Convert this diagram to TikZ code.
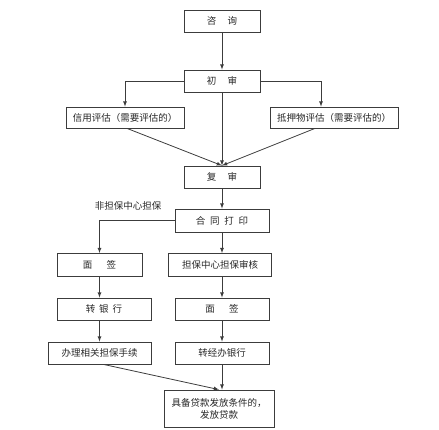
\documentclass[tikz,border=0pt]{standalone}
\usepackage{fontspec}
\usepackage{tikz}
\usetikzlibrary{arrows,shapes,positioning}
\newfontfamily\cjk{Noto Sans CJK SC}
\definecolor{lcgray}{RGB}{60,60,60}
\definecolor{lctext}{RGB}{40,40,40}
\tikzstyle{arrow} = [line width=0.8pt,->,>=latex,color=lcgray]
\tikzstyle{stepnode} = [rectangle, minimum width=76pt, minimum height=22pt, text centered, draw=lcgray, fill=white, line width=0.8pt, inner sep=1pt, text=lctext]

\begin{document}
\begin{tikzpicture}[x=1pt, y=-1pt, font=\cjk\fontsize{9.5}{12}\selectfont]
\useasboundingbox (0,0) rectangle (439,429);

\node[stepnode] (zx) at (222,21) {咨\hspace{1.2em}询};
\node[stepnode] (cs) at (222,81) {初\hspace{1.2em}审};
\node[stepnode, minimum width=118pt, minimum height=21pt] (xy) at (125,117.5) {信用评估（需要评估的）};
\node[stepnode, minimum width=128pt, minimum height=21pt] (dy) at (334,117.5) {抵押物评估（需要评估的）};
\node[stepnode] (fs) at (222,177) {复\hspace{1.2em}审};
\node[stepnode, minimum width=94pt, minimum height=23pt] (ht) at (222,220.5) {合\hspace{0.5em}同\hspace{0.5em}打\hspace{0.5em}印};

\node[stepnode, minimum width=85pt, minimum height=23pt] (mql) at (99.5,265) {面\hspace{1.5em}签};
\node[stepnode, minimum width=94pt] (zyh) at (104,309) {转\hspace{0.4em}银\hspace{0.4em}行};
\node[stepnode, minimum width=103pt] (bl) at (99.5,353) {办理相关担保手续};

\node[stepnode, minimum width=103pt, minimum height=23pt] (db) at (220,265) {担保中心担保审核};
\node[stepnode, minimum width=94pt] (mqr) at (222,309) {面\hspace{1.5em}签};
\node[stepnode, minimum width=94pt] (zjb) at (222,353) {转经办银行};
\node[stepnode, minimum width=110pt, minimum height=37pt, align=center] (ff) at (219,408.5) {具备贷款发放条件的，\\发放贷款};

\node[text=lctext] (fdb) at (128,206) {非担保中心担保};

\draw[arrow] (zx) -- (cs);
\draw[arrow] (cs.west) -| (xy.north);
\draw[arrow] (cs.east) -| ([xshift=-13pt]dy.north);
\draw[arrow] (cs) -- (fs);
\draw[arrow] ([xshift=2pt]xy.south) -- (fs.north);
\draw[arrow] ([xshift=-19pt]dy.south) -- (fs.north);
\draw[arrow] (fs) -- (ht);

\draw[arrow] (ht.west) -| (mql.north);
\draw[arrow] (mql) -- (mql |- zyh.north);
\draw[arrow] (mql |- zyh.south) -- (bl);
\draw[arrow] ([xshift=4pt]bl.south) -- (ff.north);

\draw[arrow] (ht) -- (ht |- db.north);
\draw[arrow] (ht |- db.south) -- (mqr);
\draw[arrow] (mqr) -- (zjb);
\draw[arrow] (zjb.south) -- (zjb |- ff.north);
\end{tikzpicture}
\end{document}
